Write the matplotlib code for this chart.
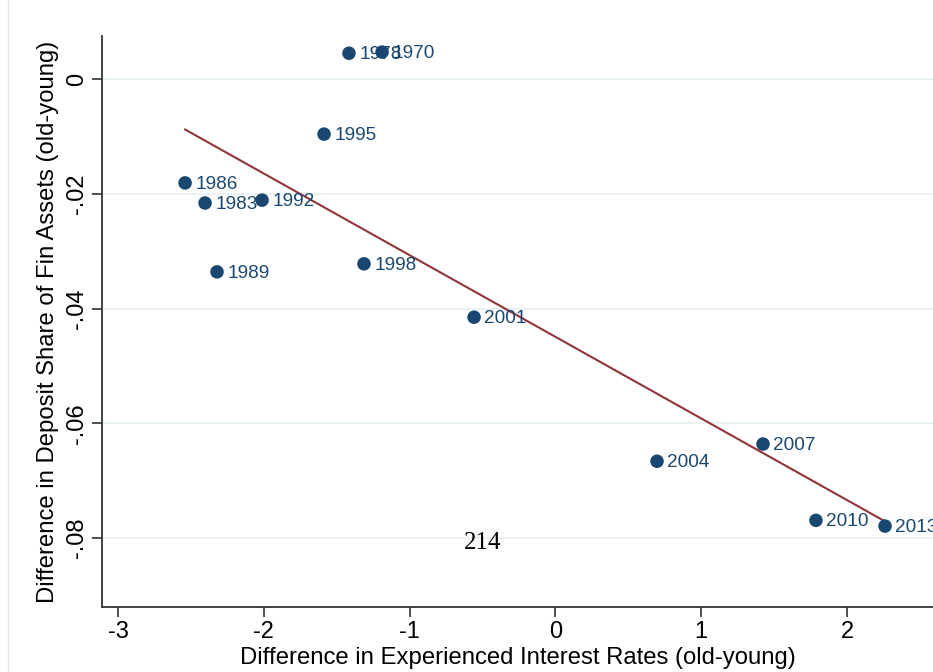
import numpy as np
import matplotlib.pyplot as plt

plt.rcParams['font.family'] = ['Liberation Sans', 'DejaVu Sans']

years = ['1978', '1970', '1995', '1986', '1983', '1992', '1989', '1998',
         '2001', '2004', '2007', '2010', '2013']
x = np.array([-1.416, -1.189, -1.587, -2.540, -2.403, -2.012, -2.321, -1.313,
              -0.558, 0.697, 1.424, 1.787, 2.261])
y = np.array([0.0045, 0.0047, -0.0096, -0.0181, -0.0216, -0.0211, -0.0336, -0.0322,
              -0.0415, -0.0666, -0.0636, -0.0769, -0.0779])

navy = '#1a476f'
maroon = '#90353b'

fig = plt.figure(figsize=(9.33, 6.72), dpi=100)
ax = fig.add_axes([102/933, 65/672, 1 - 102/933, (607-36)/672])

ax.set_xlim(-3.11, 2.59)
ax.set_ylim(-0.092, 0.0075)

# grid
for gy in [0, -0.02, -0.04, -0.06, -0.08]:
    ax.axhline(gy, color='#eaf2f3', lw=1.5, zorder=0)

# fitted line
b, a = np.polyfit(x, y, 1)
xs = np.array([x.min(), x.max()])
ax.plot(xs, a + b * xs, color=maroon, lw=1.5, zorder=2)

ax.scatter(x, y, s=95, color=navy, zorder=3, edgecolors='none')
for xi, yi, lab in zip(x, y, years):
    ax.annotate(lab, (xi, yi), xytext=(7.5, -1), textcoords='offset points',
                va='center', ha='left', fontsize=13.7, color=navy, zorder=4)

ax.set_xticks([-3, -2, -1, 0, 1, 2])
ax.set_xticklabels(['-3', '-2', '-1', '0', '1', '2'])
ax.set_yticks([0, -0.02, -0.04, -0.06, -0.08])
ax.set_yticklabels(['0', '-.02', '-.04', '-.06', '-.08'], rotation=90, va='center')
ax.tick_params(labelsize=17, length=7, width=1.2, color='#333333', pad=3)

ax.spines['top'].set_visible(False)
ax.spines['right'].set_visible(False)
ax.spines['left'].set_color('#333333')
ax.spines['bottom'].set_color('#333333')
ax.spines['left'].set_linewidth(1.3)
ax.spines['bottom'].set_linewidth(1.3)

ax.set_xlabel('Difference in Experienced Interest Rates (old-young)', fontsize=17.2, labelpad=3)
ax.set_ylabel('Difference in Deposit Share of Fin Assets (old-young)', fontsize=17.2, labelpad=5)

ax.text(-0.5, -0.0808, '214', fontsize=18, family='Liberation Serif', ha='center', va='center')

fig.add_artist(plt.Line2D([8/933, 8/933], [0, 1], color='#e6e6e6', lw=1, transform=fig.transFigure))

fig.savefig('out.png', dpi=100)
